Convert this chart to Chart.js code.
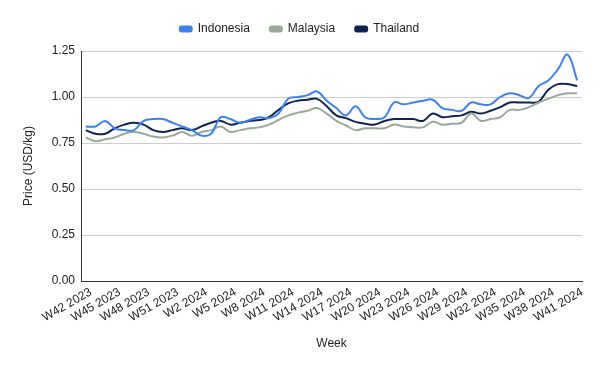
<!DOCTYPE html>
<html>
<head>
<meta charset="utf-8">
<script src="https://cdn.jsdelivr.net/npm/chart.js@4"></script>
<style>
html,body{margin:0;padding:0;background:#fff;}
#wrap{width:600px;height:371px;}
</style>
</head>
<body>
<div id="wrap"><canvas id="c" width="600" height="371"></canvas></div>
<script>
const weeks = [
  "W42 2023","W43 2023","W44 2023","W45 2023","W46 2023","W47 2023","W48 2023","W49 2023","W50 2023","W51 2023","W52 2023",
  "W1 2024","W2 2024","W3 2024","W4 2024","W5 2024","W6 2024","W7 2024","W8 2024","W9 2024","W10 2024",
  "W11 2024","W12 2024","W13 2024","W14 2024","W15 2024","W16 2024","W17 2024","W18 2024","W19 2024","W20 2024",
  "W21 2024","W22 2024","W23 2024","W24 2024","W25 2024","W26 2024","W27 2024","W28 2024","W29 2024","W30 2024",
  "W31 2024","W32 2024","W33 2024","W34 2024","W35 2024","W36 2024","W37 2024","W38 2024","W39 2024","W40 2024","W41 2024"
];
const indonesia = [0.84,0.84,0.87,0.83,0.82,0.82,0.87,0.88,0.88,0.86,0.84,0.82,0.79,0.80,0.89,0.88,0.86,0.875,0.89,0.885,0.91,
  0.99,1.00,1.01,1.03,0.98,0.94,0.90,0.95,0.89,0.88,0.89,0.97,0.96,0.97,0.98,0.985,0.94,0.93,0.925,0.97,
  0.96,0.96,1.00,1.02,1.01,0.995,1.06,1.09,1.15,1.23,1.09];
const malaysia = [0.78,0.76,0.77,0.78,0.80,0.81,0.80,0.785,0.78,0.79,0.81,0.79,0.81,0.82,0.84,0.81,0.82,0.83,0.835,0.85,0.875,
  0.90,0.915,0.925,0.94,0.91,0.87,0.845,0.82,0.83,0.83,0.83,0.85,0.84,0.835,0.835,0.865,0.85,0.855,0.86,0.91,
  0.87,0.88,0.89,0.93,0.93,0.945,0.97,0.99,1.01,1.02,1.02];
const thailand = [0.82,0.80,0.80,0.83,0.85,0.86,0.85,0.82,0.81,0.82,0.83,0.82,0.84,0.86,0.87,0.85,0.86,0.87,0.875,0.89,0.93,
  0.965,0.98,0.985,0.99,0.95,0.90,0.885,0.865,0.855,0.85,0.87,0.88,0.88,0.88,0.87,0.91,0.89,0.895,0.90,0.92,
  0.91,0.925,0.945,0.97,0.97,0.97,0.975,1.04,1.07,1.07,1.06];
const yTicks = [0, 0.25, 0.5, 0.75, 1.0, 1.25];
const seriesNames = ["Indonesia","Malaysia","Thailand"];
const seriesColors = ["#3b82f0","#9aa89a","#0e2350"];

const FONT = 'Arial, "Liberation Sans", sans-serif';
const TXT = '#222';

const legendHeightFix = {
  id: 'legendHeightFix',
  afterInit(chart) {
    const lg = chart.legend;
    if (!lg) return;
    const orig = lg.fit.bind(lg);
    lg.fit = function() { orig(); this.height = 48; };
  }
};

new Chart(document.getElementById('c'), {
  type: 'line',
  data: {
    labels: weeks,
    datasets: [indonesia, malaysia, thailand].map((d, i) => ({
      label: seriesNames[i],
      data: d,
      borderColor: seriesColors[i],
      backgroundColor: seriesColors[i],
      borderWidth: 2,
      pointRadius: 0,
      pointHoverRadius: 0,
      tension: 0.4,
      fill: false
    }))
  },
  options: {
    responsive: false,
    animation: false,
    layout: { padding: { top: 3, left: 17, right: 18, bottom: 16 } },
    plugins: {
      tooltip: { enabled: false },
      legend: {
        position: 'top',
        align: 'center',
        labels: {
          boxWidth: 12, boxHeight: 5, padding: 20,
          color: TXT, font: { family: FONT, size: 12 },
          useBorderRadius: true, borderRadius: 2
        }
      }
    },
    scales: {
      x: {
        offset: true,
        grid: { display: false, drawTicks: false },
        border: { display: true, color: '#333', width: 1 },
        afterFit(s) { s.height = 74; },
        ticks: {
          autoSkip: false, minRotation: 30, maxRotation: 30, padding: 4, labelOffset: 5,
          color: TXT, font: { family: FONT, size: 12 },
          callback(v, i) { return i % 3 === 0 ? weeks[i] : ''; }
        },
        title: { display: true, text: 'Week', color: TXT, font: { family: FONT, size: 12 } }
      },
      y: {
        min: 0, max: 1.25,
        afterFit(s) { s.width = 64; },
        afterBuildTicks(s) { s.ticks = yTicks.map(v => ({ value: v })); },
        grid: { color: '#cccccc', drawTicks: false },
        border: { display: true, color: '#333', width: 1 },
        ticks: {
          padding: 6, color: TXT, font: { family: FONT, size: 12 },
          callback(v) { return Number(v).toFixed(2); }
        },
        title: { display: true, text: 'Price (USD/kg)', color: TXT, font: { family: FONT, size: 12 } }
      }
    }
  },
  plugins: [legendHeightFix]
});
</script>
</body>
</html>
